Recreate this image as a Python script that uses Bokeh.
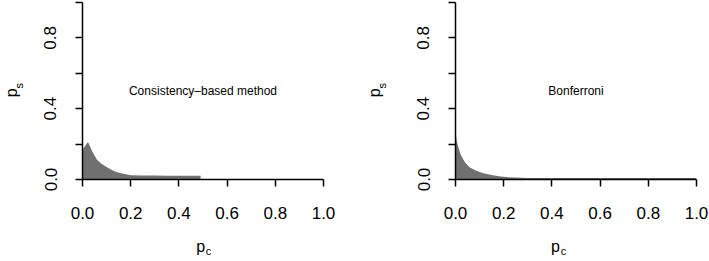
from bokeh.plotting import figure
from bokeh.layouts import row
from bokeh.models import Range1d, Label, FixedTicker, LinearAxis
from bokeh.embed import file_html
from bokeh.resources import INLINE

# ---- data ----
cons_pc = [0.0, 0.005, 0.01, 0.015, 0.02, 0.023, 0.027, 0.03, 0.04, 0.05, 0.06, 0.08,
           0.10, 0.12, 0.14, 0.16, 0.18, 0.20, 0.25, 0.30, 0.35, 0.40, 0.45, 0.49]
cons_ps = [0.17, 0.178, 0.188, 0.198, 0.207, 0.21, 0.2, 0.19, 0.16, 0.135, 0.112, 0.088,
           0.07, 0.055, 0.043, 0.035, 0.029, 0.024, 0.022, 0.022, 0.021, 0.021, 0.021, 0.021]

bonf_pc = [0.0, 0.002, 0.005, 0.01, 0.015, 0.02, 0.03, 0.04, 0.05, 0.06, 0.08, 0.10,
           0.12, 0.15, 0.18, 0.22, 0.30, 0.50, 0.70, 1.0]
bonf_ps = [0.28, 0.25, 0.22, 0.19, 0.17, 0.145, 0.118, 0.096, 0.08, 0.068, 0.053, 0.042,
           0.034, 0.025, 0.018, 0.013, 0.009, 0.008, 0.008, 0.008]

tick_values = [0.0, 0.2, 0.4, 0.6, 0.8, 1.0]
y_tick_values = [0.0, 0.2, 0.4, 0.6, 0.8, 1.0]
y_tick_labels = {0.0: "0.0", 0.2: "", 0.4: "0.4", 0.6: "", 0.8: "0.8", 1.0: ""}
x_tick_labels = {0.0: "0.0", 0.2: "0.2", 0.4: "0.4", 0.6: "0.6", 0.8: "0.8", 1.0: "1.0"}

titles = ["Consistency\u2013based method", "Bonferroni"]
series_x = [cons_pc, bonf_pc]
series_y = [cons_ps, bonf_ps]

FONT = "Liberation Sans"
FILL = "#707070"


def label_axis(p, side, pos, text, size, standoff, vertical=False):
    """An invisible axis that only carries one piece of axis-title text."""
    ax = LinearAxis(ticker=FixedTicker(ticks=[pos]),
                    major_label_overrides={pos: text})
    ax.axis_line_color = None
    ax.major_tick_line_color = None
    ax.minor_tick_line_color = None
    ax.major_tick_out = 0
    ax.major_tick_in = 0
    ax.major_label_standoff = standoff
    ax.major_label_text_font = FONT
    ax.major_label_text_font_size = size
    ax.major_label_text_color = "black"
    if vertical:
        ax.major_label_orientation = "vertical"
    p.add_layout(ax, side)


def make_panel(i, width, left, right, xlab_pos, ylab_standoff):
    p = figure(width=width, height=261, output_backend="svg", toolbar_location=None,
               x_range=Range1d(0, 1), y_range=Range1d(0, 1.0),
               min_border_left=left, min_border_right=right,
               min_border_top=2, min_border_bottom=82)
    p.outline_line_color = None
    p.xgrid.visible = False
    p.ygrid.visible = False
    p.background_fill_color = "white"
    p.border_fill_color = "white"

    p.varea(x=series_x[i], y1=0, y2=series_y[i], fill_color=FILL, fill_alpha=1.0)

    for ax, ticks, labels in ((p.xaxis[0], tick_values, x_tick_labels),
                              (p.yaxis[0], y_tick_values, y_tick_labels)):
        ax.ticker = FixedTicker(ticks=ticks)
        ax.major_label_overrides = labels
        ax.bounds = (0, 1)
        ax.axis_line_color = "black"
        ax.axis_line_width = 1.5
        ax.major_tick_line_color = "black"
        ax.major_tick_line_width = 1.5
        ax.major_tick_out = 7
        ax.major_tick_in = 0
        ax.minor_tick_line_color = None
        ax.major_label_text_font = FONT
        ax.major_label_text_font_size = "17px"
        ax.major_label_text_color = "black"
    p.xaxis[0].major_label_standoff = 20
    p.yaxis[0].major_label_standoff = 19
    p.yaxis[0].major_label_orientation = "vertical"

    # panel annotation
    p.add_layout(Label(x=0.5, y=0.5, text=titles[i], text_align="center",
                       text_baseline="middle", text_font=FONT,
                       text_font_size="12px", text_color="black"))

    # x axis title: p with subscript c
    label_axis(p, "below", xlab_pos[0], "p", "16px", 16)
    label_axis(p, "below", xlab_pos[1], "c", "11px", -13)
    # y axis title: p with subscript s
    label_axis(p, "left", 0.529, "s", "11px", ylab_standoff, vertical=True)
    label_axis(p, "left", 0.49, "p", "16px", -10, vertical=True)
    return p


p1 = make_panel(0, 355, 81, 32, (0.490, 0.523), 16)
p2 = make_panel(1, 354, 100, 13, (0.415, 0.448), 26)

layout = row(p1, p2)
open("out.html", "w").write(file_html(layout, INLINE))
